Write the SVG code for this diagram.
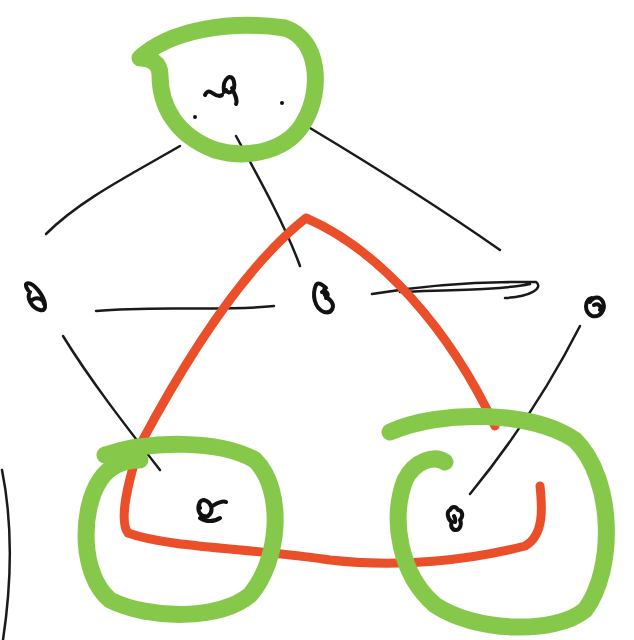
<svg xmlns="http://www.w3.org/2000/svg" width="634" height="640" viewBox="0 0 634 640">
<style>
.g{fill:none;stroke:#86c94a;stroke-width:17;stroke-linecap:round;stroke-linejoin:round}
.r{fill:none;stroke:#ea4f2a;stroke-width:9;stroke-linecap:round;stroke-linejoin:round}
.k{fill:none;stroke:#1a1a1a;stroke-width:2.5;stroke-linecap:round;stroke-linejoin:round}
.s{fill:none;stroke:#111;stroke-width:4;stroke-linecap:round;stroke-linejoin:round}
</style>
<rect width="634" height="640" fill="#fff"/>
<g id="connectors">
<path class="k" d="M180,146 C130,175 80,200 46,234"/>
<path class="k" d="M236,136 C260,180 285,225 300,266"/>
<path class="k" d="M310,128 C380,170 450,215 500,250"/>
<path class="k" d="M96,311 C160,305 220,312 274,306"/>
<path class="k" d="M372,294 C420,286 470,281 536,282 C544,288 530,297 505,298 M400,292 C450,290 500,290 530,284"/>
<path class="k" d="M63,336 C90,380 125,425 160,470"/>
<path class="k" d="M580,326 C550,385 510,445 470,494"/>
<path class="k" d="M2,470 C12,520 12,580 3,640"/>
<path class="r" d="M495,426 C450,330 380,250 306,218 C240,270 180,370 140,445 C130,475 118,520 128,533 C170,548 250,548 330,560 C400,568 470,560 525,546 C545,535 542,505 540,486"/>
</g>
<g id="node-top">
<path class="g" d="M140,58 C170,30 230,20 285,28 C320,40 322,90 305,120 C290,150 250,160 215,150 C175,135 160,105 160,75 C160,62 150,58 140,58"/>
<path class="s" d="M205,95 C210,85 215,100 222,95 M224,92 C222,78 232,72 234,82 C236,92 228,95 226,90 M232,88 C235,95 238,100 236,104"/>
<circle cx="282" cy="103" r="2" fill="#111"/>
<circle cx="195" cy="117" r="2" fill="#111"/>
</g>
<g id="node-left">
<path class="s" d="M28,290 C22,282 30,280 38,290 C46,300 48,312 40,310 C32,308 26,298 30,292 M32,300 C38,296 44,300 44,304"/>
</g>
<g id="node-middle">
<path class="s" d="M316,285 C312,294 314,308 324,312 C332,314 336,306 330,300 C324,296 322,290 326,288 C322,284 318,282 316,285 M322,292 C326,290 330,294 326,298"/>
</g>
<g id="node-right">
<path class="s" d="M592,298 C584,300 584,312 592,316 C600,318 606,310 603,302 C600,296 594,296 590,302 M594,305 C598,303 602,306 600,310"/>
</g>
<g id="node-bottom-left">
<path class="g" d="M105,455 C150,440 220,440 255,460 C285,490 280,560 250,595 C220,620 150,620 110,600 C80,575 80,510 100,480 C110,465 125,460 140,460"/>
<path class="s" d="M200,502 C196,510 200,518 208,516 C214,512 212,502 204,500 C200,500 198,504 200,508 M212,506 C216,504 222,500 226,502 M200,518 C206,522 214,522 220,518"/>
</g>
<g id="node-bottom-right">
<path class="g" d="M390,432 C440,410 530,410 575,440 C615,480 615,570 585,610 C555,635 475,632 435,605 C400,575 390,520 405,480 C415,460 435,455 445,462"/>
<path class="s" d="M450,510 C446,512 448,520 452,522 C450,526 452,530 456,530 C460,530 462,524 460,520 C464,516 462,510 458,510 C456,506 452,506 450,510 M454,516 C455,518 456,520 455,522"/>
</g>
</svg>
